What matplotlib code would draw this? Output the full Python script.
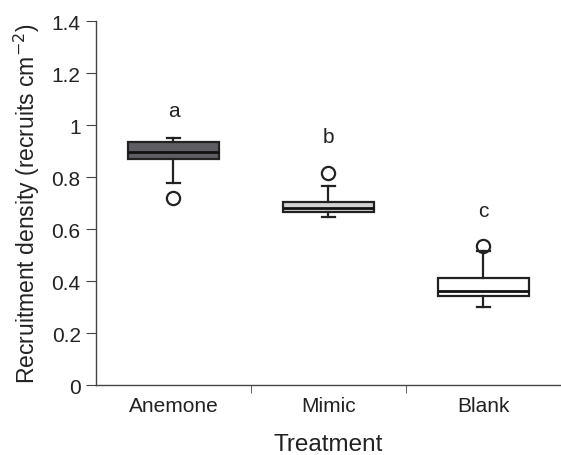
import matplotlib
matplotlib.use('Agg')
import matplotlib.pyplot as plt

plt.rcParams['font.family'] = ['Liberation Sans', 'DejaVu Sans']

treatments = ['Anemone', 'Mimic', 'Blank']
whislo = [0.777, 0.645, 0.301]
q1 = [0.869, 0.667, 0.341]
med = [0.895, 0.680, 0.360]
q3 = [0.933, 0.706, 0.410]
whishi = [0.950, 0.767, 0.515]
outliers = [[0.718], [0.814], [0.535]]
letters = ['a', 'b', 'c']
letter_y = [1.055, 0.955, 0.67]
fills = ['#5e5e63', '#d3d3d3', '#ffffff']

fig = plt.figure(figsize=(5.61, 4.56), dpi=100)
ax = fig.add_axes([0.171, 0.1535, 0.829, 0.798])

stats = []
for i in range(len(treatments)):
    stats.append(dict(whislo=whislo[i], q1=q1[i], med=med[i], q3=q3[i],
                      whishi=whishi[i], fliers=outliers[i], label=treatments[i]))

bp = ax.bxp(stats, positions=[1, 2, 3], widths=0.59, capwidths=0.08,
            patch_artist=True,
            boxprops=dict(edgecolor='#222222', linewidth=1.6),
            medianprops=dict(color='#111111', linewidth=2),
            whiskerprops=dict(color='#222222', linewidth=1.6),
            capprops=dict(color='#222222', linewidth=1.6),
            flierprops=dict(marker='o', markersize=9.5, markerfacecolor='none',
                            markeredgecolor='#222222', markeredgewidth=1.6))
for patch, c in zip(bp['boxes'], fills):
    patch.set_facecolor(c)

for i, (t, y) in enumerate(zip(letters, letter_y)):
    ax.text(i + 1, y, t, ha='center', va='center', fontsize=15, color='#222222')

ax.set_xlim(0.5, 3.5)
ax.set_ylim(0, 1.4)
ax.set_yticks([0, 0.2, 0.4, 0.6, 0.8, 1, 1.2, 1.4])
ax.set_yticklabels(['0', '0.2', '0.4', '0.6', '0.8', '1', '1.2', '1.4'])
ax.set_xticks([1, 2, 3])
ax.set_xticklabels(treatments)
ax.tick_params(axis='x', length=0, labelsize=15, pad=8, colors='#222222')
ax.set_xticks([1.5, 2.5, 3.5], minor=True)
ax.tick_params(axis='x', which='minor', length=6, direction='out', color='#444444')
ax.tick_params(axis='y', length=7, pad=4, labelsize=15, colors='#222222', color='#444444')

for s in ['top', 'right']:
    ax.spines[s].set_visible(False)
for s in ['left', 'bottom']:
    ax.spines[s].set_color('#444444')
    ax.spines[s].set_linewidth(1)

ax.set_xlabel('Treatment', fontsize=17.5, labelpad=13, color='#222222')
ax.set_ylabel('Recruitment density (recruits cm$^{-2}$)', fontsize=16.5,
              labelpad=7, color='#222222')

fig.savefig('out.png', dpi=100)
